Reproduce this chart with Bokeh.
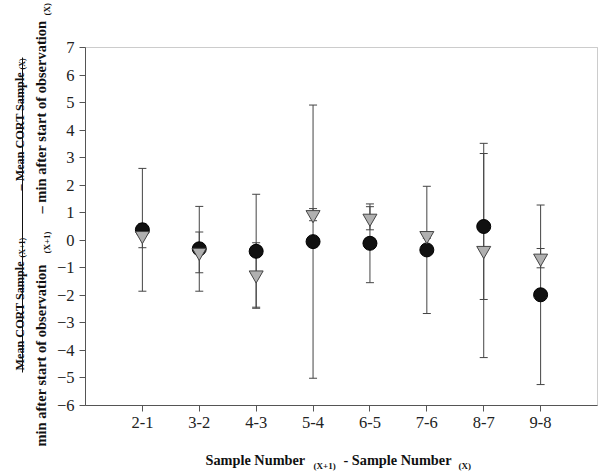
from math import pi
from bokeh.plotting import figure
from bokeh.models import Whisker, ColumnDataSource, FixedTicker, Range1d, TeeHead, BoxAnnotation
from bokeh.core.properties import value
from bokeh.embed import file_html
from bokeh.resources import INLINE

categories = ["2-1", "3-2", "4-3", "5-4", "6-5", "7-6", "8-7", "9-8"]
circle_mean = [0.38, -0.31, -0.40, -0.05, -0.11, -0.35, 0.50, -1.98]
circle_err = [2.23, 1.54, 2.07, 4.96, 1.43, 2.31, 2.65, 3.26]
tri_mean = [0.17, -0.44, -1.26, 0.93, 0.80, 0.17, -0.37, -0.65]
tri_err = [0.44, 0.74, 1.17, 0.22, 0.42, 0.10, 3.89, 0.35]
y_ticks = list(range(-6, 8))

xpos = list(range(1, len(categories) + 1))

W, H = 600, 474
FL, FT, FR, FB = 85, 47, 597, 405      # visible plot box in page pixels
XMIN, XMAX, YMIN, YMAX = 0, 9, -6, 7   # axis extents of that box
SERIF = "Liberation Serif"
XS = (FR - FL) / (XMAX - XMIN)         # px per x unit
YS = (FB - FT) / (YMAX - YMIN)         # px per y unit

def dx(px):
    return XMIN + (px - FL) / XS

def dy(py):
    return YMAX - (py - FT) / YS

# the frame fills the whole canvas; the axes sit at fixed locations
p = figure(width=W, height=H,
           x_range=Range1d(dx(0), dx(W)), y_range=Range1d(dy(H), dy(0)),
           output_backend="svg", toolbar_location=None, min_border=0, title=None)
p.grid.visible = False
p.outline_line_color = None

xa, ya = p.xaxis[0], p.yaxis[0]
xa.fixed_location = YMIN
ya.fixed_location = XMIN
xa.bounds = (XMIN, XMAX)
ya.bounds = (YMIN, YMAX)
for ax in (xa, ya):
    ax.axis_line_color = "#555555"
    ax.major_tick_line_color = "#555555"
    ax.minor_tick_line_color = None
    ax.major_tick_in = 0
    ax.major_tick_out = 6
    ax.major_label_text_font = SERIF
    ax.major_label_text_font_size = "16.5px"
    ax.major_label_text_color = "#222222"
    ax.major_label_standoff = 5

xa.ticker = FixedTicker(ticks=xpos)
xa.major_label_overrides = {x: c for x, c in zip(xpos, categories)}
ya.ticker = FixedTicker(ticks=y_ticks)

# plot box outline
p.add_layout(BoxAnnotation(left=XMIN, right=XMAX, bottom=YMIN, top=YMAX,
                           fill_alpha=0, line_color="#555555", line_width=1,
                           level="underlay"))

csrc = ColumnDataSource(dict(x=xpos, y=circle_mean,
                             up=[m + e for m, e in zip(circle_mean, circle_err)],
                             lo=[m - e for m, e in zip(circle_mean, circle_err)]))
tsrc = ColumnDataSource(dict(x=xpos, y=tri_mean,
                             up=[m + e for m, e in zip(tri_mean, tri_err)],
                             lo=[m - e for m, e in zip(tri_mean, tri_err)]))

for src in (csrc, tsrc):
    p.add_layout(Whisker(base="x", upper="up", lower="lo", source=src, level="underlay",
                         line_color="#444444", line_width=1,
                         upper_head=TeeHead(size=8, line_color="#444444", line_width=1),
                         lower_head=TeeHead(size=8, line_color="#444444", line_width=1)))

p.scatter("x", "y", source=csrc, marker="circle", size=14,
          fill_color="#111111", line_color="#000000")
p.scatter("x", "y", source=tsrc, marker="inverted_triangle", size=14,
          fill_color="#b0b0b0", line_color="#444444")

def put(px, py, text, size, angle=0.0):
    p.text(x=[dx(px)], y=[dy(py)], text=[text], angle=angle,
           text_font=value(SERIF), text_font_style="bold",
           text_font_size=value(f"{size}px"), text_color="#111111",
           text_align="left", text_baseline="alphabetic")

# y-axis title (rotated fraction)
A = pi / 2
put(19, 370, "Mean CORT Sample", 12.2, A)
put(22, 257, "(X+1)", 8, A)
put(19, 190, "\u2013 Mean CORT Sample", 12.2, A)
put(22, 69, "(X)", 8, A)
p.segment(x0=[dx(22)], y0=[dy(372)], x1=[dx(22)], y1=[dy(57)],
          line_color="#111111", line_width=1)
put(40, 446, "min after start of observation", 14.5, A)
put(46, 253, "(X+1)", 9, A)
put(40, 213, "\u2013 min after start of observation", 14.5, A)
put(46, 15, "(X)", 9, A)

# x-axis title with subscripts
put(205, 459, "Sample Number", 14.3)
put(313, 465, "(X+1)", 9)
put(343, 459, "- Sample Number", 14.3)
put(458, 465, "(X)", 9)

open("out.html", "w").write(file_html(p, INLINE))
